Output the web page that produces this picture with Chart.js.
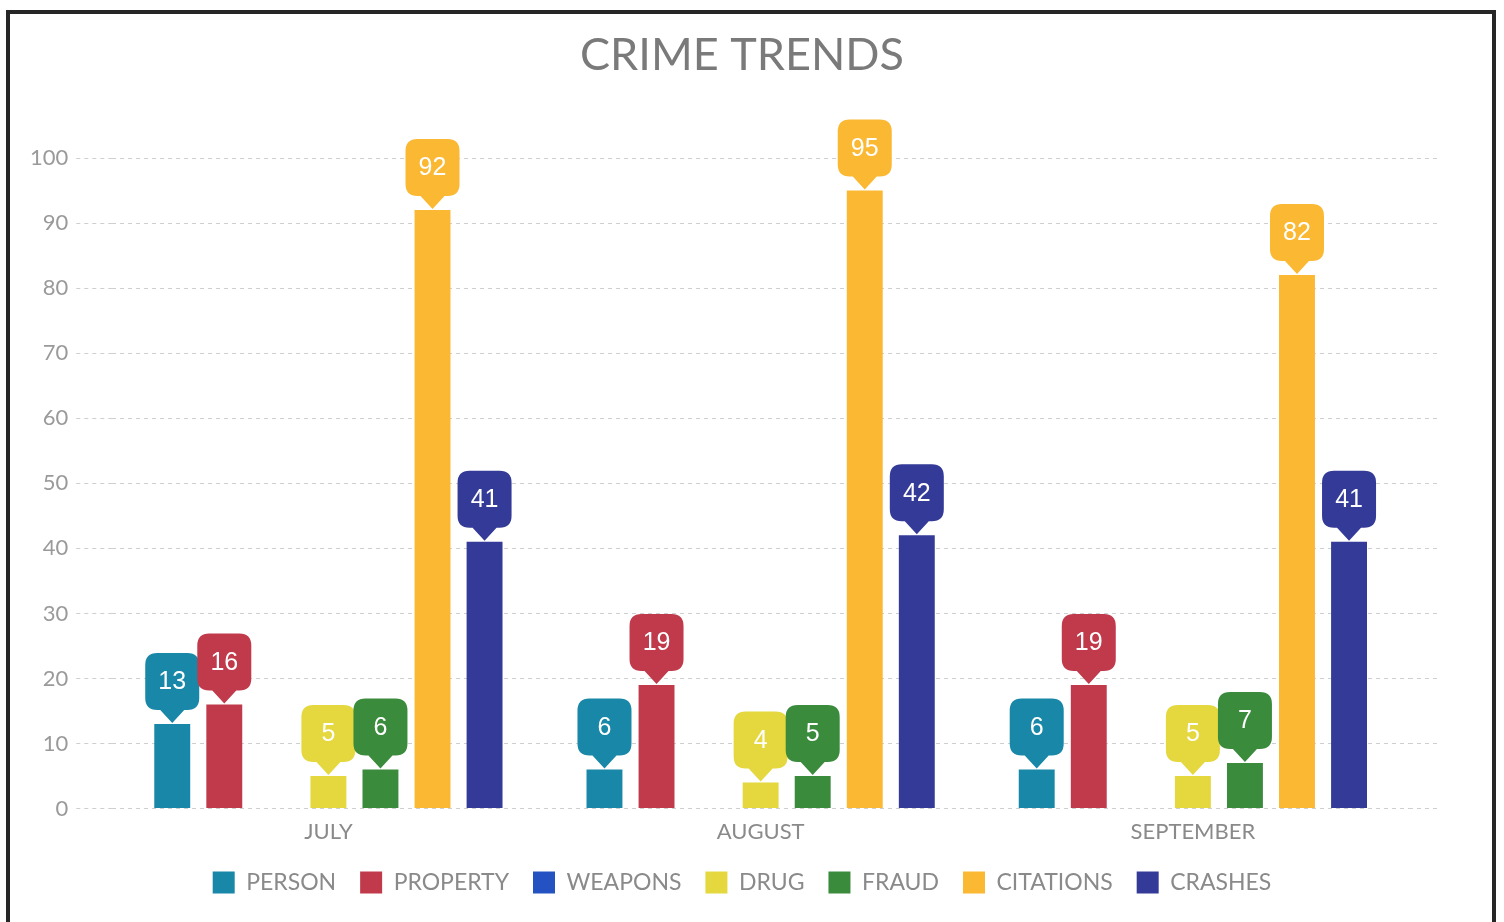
<!DOCTYPE html>
<html>
<head>
<meta charset="utf-8">
<script src="https://cdn.jsdelivr.net/npm/chart.js@4/dist/chart.umd.min.js"></script>
<style>
    html, body { margin: 0; padding: 0; background: #fff; overflow: hidden; }
    #frame {
        position: absolute; left: 6px; top: 10px;
        width: 1482px; height: 930px;
        border: 4px solid #262626;
        background: #fff;
    }
    #chartBox { position: relative; width: 1482px; height: 916px; }
</style>
</head>
<body>
<div id="frame">
    <div id="chartBox"><canvas id="crimeChart"></canvas></div>
</div>
<script>
const months = ['JULY', 'AUGUST', 'SEPTEMBER'];
const person = [13, 6, 6];
const property = [16, 19, 19];
const weapons = [0, 0, 0];
const drug = [5, 4, 5];
const fraud = [6, 5, 7];
const citations = [92, 95, 82];
const crashes = [41, 42, 41];
const yTicks = [0, 10, 20, 30, 40, 50, 60, 70, 80, 90, 100];

// callout bubbles above each bar
const calloutPlugin = {
    id: 'callouts',
    afterDatasetsDraw(chart) {
        const ctx = chart.ctx;
        const w = 54, h = 57, r = 12, tipH = 13, tipW = 12;
        chart.data.datasets.forEach(function (ds, i) {
            const meta = chart.getDatasetMeta(i);
            if (meta.hidden) return;
            meta.data.forEach(function (bar, j) {
                const v = ds.data[j];
                if (!v) return;
                const x = bar.x;
                const tipY = bar.y - 1;
                const bottom = tipY - tipH;
                const top = bottom - h;
                const left = x - w / 2, right = x + w / 2;
                ctx.save();
                ctx.fillStyle = ds.backgroundColor;
                ctx.beginPath();
                ctx.moveTo(left + r, top);
                ctx.lineTo(right - r, top);
                ctx.quadraticCurveTo(right, top, right, top + r);
                ctx.lineTo(right, bottom - r);
                ctx.quadraticCurveTo(right, bottom, right - r, bottom);
                ctx.lineTo(x + tipW, bottom);
                ctx.lineTo(x, tipY);
                ctx.lineTo(x - tipW, bottom);
                ctx.lineTo(left + r, bottom);
                ctx.quadraticCurveTo(left, bottom, left, bottom - r);
                ctx.lineTo(left, top + r);
                ctx.quadraticCurveTo(left, top, left + r, top);
                ctx.closePath();
                ctx.fill();
                ctx.fillStyle = '#ffffff';
                ctx.font = '25px "Liberation Sans", Arial, sans-serif';
                ctx.textAlign = 'center';
                ctx.textBaseline = 'middle';
                ctx.fillText(String(v), x, top + h / 2 + 1);
                ctx.restore();
            });
        });
    }
};

document.addEventListener('DOMContentLoaded', function () {
    const crimeChartCtx = document.getElementById('crimeChart');
    if (crimeChartCtx) {
        new Chart(crimeChartCtx, {
            type: 'bar',
            data: {
                labels: months,
                datasets: [
                    { label: 'PERSON', data: person, backgroundColor: '#1887a8' },
                    { label: 'PROPERTY', data: property, backgroundColor: '#c13a4b' },
                    { label: 'WEAPONS', data: weapons, backgroundColor: '#2452c2' },
                    { label: 'DRUG', data: drug, backgroundColor: '#e4d83e' },
                    { label: 'FRAUD', data: fraud, backgroundColor: '#3a8b3c' },
                    { label: 'CITATIONS', data: citations, backgroundColor: '#fbb833' },
                    { label: 'CRASHES', data: crashes, backgroundColor: '#343a97' }
                ]
            },
            options: {
                responsive: true,
                maintainAspectRatio: false,
                animation: false,
                categoryPercentage: 0.843,
                barPercentage: 0.69,
                layout: { padding: { top: 10, right: 30, bottom: 26, left: 12 } },
                plugins: {
                    title: {
                        display: true,
                        text: 'CRIME TRENDS',
                        color: '#7a7a7a',
                        font: { family: 'Lato, sans-serif', size: 45, weight: 'normal' },
                        padding: { top: 4, bottom: 76 }
                    },
                    legend: {
                        position: 'bottom',
                        labels: {
                            color: '#8a8a8a',
                            boxWidth: 22,
                            boxHeight: 22,
                            padding: 24,
                            font: { family: 'Lato, sans-serif', size: 23 }
                        }
                    },
                    tooltip: { enabled: false }
                },
                scales: {
                    x: {
                        grid: { display: false },
                        border: { display: false },
                        ticks: {
                            color: '#8a8a8a',
                            padding: 2,
                            font: { family: 'Lato, sans-serif', size: 22 }
                        }
                    },
                    y: {
                        min: 0,
                        max: 100,
                        afterBuildTicks: function (axis) {
                            axis.ticks = yTicks.map(function (v) { return { value: v }; });
                        },
                        border: { display: false, dash: [4, 4] },
                        grid: {
                            color: '#cfcfcf',
                            tickColor: '#cfcfcf',
                            tickLength: 36,
                            tickBorderDash: [4, 4]
                        },
                        ticks: {
                            color: '#9a9a9a',
                            padding: 8,
                            font: { family: 'Lato, sans-serif', size: 22 }
                        }
                    },
                    y2: {
                        position: 'right',
                        min: 0,
                        max: 100,
                        afterBuildTicks: function (axis) {
                            axis.ticks = yTicks.map(function (v) { return { value: v }; });
                        },
                        afterFit: function (axis) {
                            axis.width += 22;
                        },
                        border: { display: false },
                        grid: {
                            drawOnChartArea: false,
                            tickColor: '#cfcfcf',
                            tickLength: 31,
                            tickBorderDash: [4, 4]
                        },
                        ticks: { display: false }
                    }
                }
            },
            plugins: [calloutPlugin]
        });
    }
});
</script>
</body>
</html>
